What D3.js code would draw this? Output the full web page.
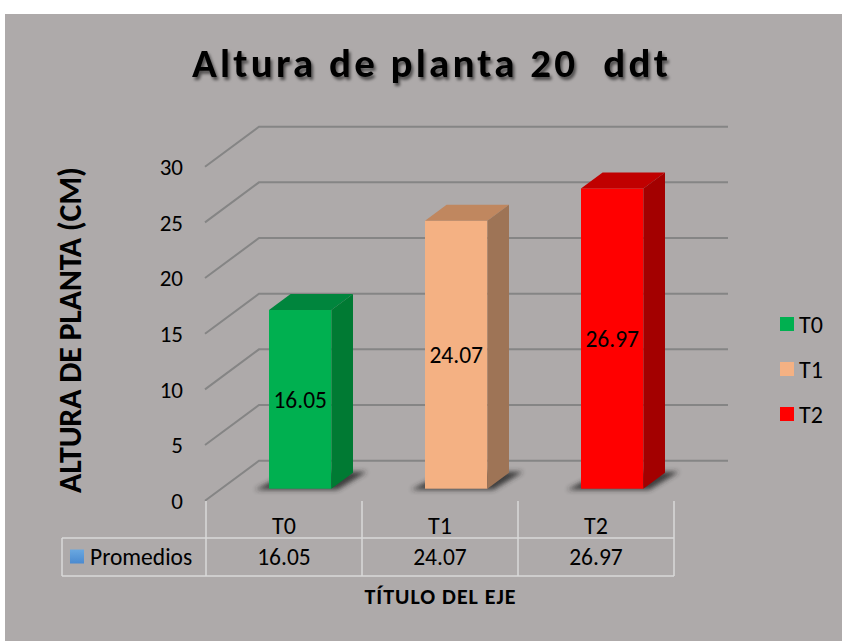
<!DOCTYPE html>
<html>
<head>
<meta charset="utf-8">
<script src="https://cdnjs.cloudflare.com/ajax/libs/d3/7.8.5/d3.min.js"></script>
<style>
  body { margin:0; background:#fff; }
  text { font-family: Carlito, Calibri, Lato, sans-serif; fill:#000; white-space: pre; }
</style>
</head>
<body>
<svg></svg>
<script>
// data
var categories = ["T0", "T1", "T2"];
var promedios = [16.05, 24.07, 26.97];
var yTicks = [0, 5, 10, 15, 20, 25, 30];
var seriesName = "Promedios";

var frontColor = ["#00b050", "#f4b183", "#ff0000"];
var topColor = ["#00853d", "#c0875f", "#c00000"];
var sideColor = ["#007a33", "#9e7456", "#a30000"];

var svgwidth = 842;
var svgheight = 641;
var svg = d3.select('svg').attr('width', svgwidth).attr('height', svgheight);

var defs = svg.append('defs');
var ts = defs.append('filter').attr('id', 'tshadow').attr('x', '-10%').attr('y', '-20%').attr('width', '130%').attr('height', '160%');
ts.append('feDropShadow').attr('dx', 2).attr('dy', 3).attr('stdDeviation', 1.6)
  .attr('flood-color', '#000').attr('flood-opacity', 0.55);
var bs = defs.append('filter').attr('id', 'bshadow').attr('x', '-30%').attr('y', '-60%').attr('width', '160%').attr('height', '220%');
bs.append('feGaussianBlur').attr('stdDeviation', 2.5);

// gray chart area
svg.append('rect').attr('x', 5).attr('y', 14).attr('width', svgwidth - 5).attr('height', svgheight - 14)
   .attr('fill', '#aeaaaa');

// 3d geometry: front plane and depth offset
var depthX = 54, depthY = 40;

var xScale = d3.scaleBand()
               .domain(categories)
               .range([206, 674])
               .padding(0);

var yScale = d3.scaleLinear()
               .domain([0, 30])
               .range([500.7, 166.7]);

var plot = svg.append('g').classed('plot', true);

// gridlines: left wall diagonal + back wall horizontal
plot.selectAll('polyline.grid')
    .data(yTicks)
    .enter().append('polyline')
    .classed('grid', true)
    .attr('points', function(d){
      var y = yScale(d);
      return [[205, y], [205 + depthX, y - depthY], [xScale.range()[1] + depthX, y - depthY]].join(' ');
    })
    .attr('fill', 'none')
    .attr('stroke', '#858585')
    .attr('stroke-width', 2);

// y tick labels
svg.append('g').selectAll('text')
   .data(yTicks)
   .enter().append('text')
   .attr('x', 183)
   .attr('y', function(d){ return yScale(d); })
   .attr('dy', '0.36em')
   .attr('text-anchor', 'end')
   .style('font-size', '23px')
   .text(function(d){ return d; });

// bars
var d0 = 0.3, d1 = 0.7;
var bw = xScale.bandwidth() * 0.4;

var bars = plot.selectAll('g.bar')
    .data(promedios)
    .enter().append('g').classed('bar', true);

var geom = function(d, i){
  var x0 = xScale(categories[i]) + xScale.bandwidth() / 2 - bw / 2 + d0 * depthX;
  var x1 = x0 + bw;
  var yb = yScale(0) - d0 * depthY;
  var yt = yb - (yScale(0) - yScale(d));
  var ox = (d1 - d0) * depthX, oy = (d1 - d0) * depthY;
  return {x0:x0, x1:x1, yb:yb, yt:yt, ox:ox, oy:oy};
};

bars.append('polygon')
    .attr('points', function(d, i){
      var g = geom(d, i);
      return [[g.x0 - 14, g.yb + 1], [g.x1 + 6, g.yb + 1], [g.x1 + g.ox + 14, g.yb - g.oy - 1], [g.x0 + g.ox, g.yb - g.oy - 1]].join(' ');
    })
    .attr('fill', '#2a2a2a')
    .attr('opacity', 0.85)
    .attr('filter', 'url(#bshadow)');

bars.append('rect')
    .attr('x', function(d, i){ return geom(d, i).x0; })
    .attr('y', function(d, i){ return geom(d, i).yt; })
    .attr('width', bw)
    .attr('height', function(d, i){ var g = geom(d, i); return g.yb - g.yt; })
    .attr('fill', function(d, i){ return frontColor[i]; });

bars.append('polygon')
    .attr('points', function(d, i){
      var g = geom(d, i);
      return [[g.x0, g.yt], [g.x1, g.yt], [g.x1 + g.ox, g.yt - g.oy], [g.x0 + g.ox, g.yt - g.oy]].join(' ');
    })
    .attr('fill', function(d, i){ return topColor[i]; });

bars.append('polygon')
    .attr('points', function(d, i){
      var g = geom(d, i);
      return [[g.x1, g.yt], [g.x1 + g.ox, g.yt - g.oy], [g.x1 + g.ox, g.yb - g.oy], [g.x1, g.yb]].join(' ');
    })
    .attr('fill', function(d, i){ return sideColor[i]; });

// data labels
bars.append('text')
    .attr('x', function(d, i){ var g = geom(d, i); return (g.x0 + g.x1) / 2; })
    .attr('y', function(d, i){ var g = geom(d, i); return (g.yt + g.yb) / 2; })
    .attr('dy', '0.36em')
    .attr('text-anchor', 'middle')
    .style('font-size', '23.5px')
    .text(function(d){ return d.toFixed(2); });

// data table under the axis
var table = svg.append('g').classed('table', true);
var lineColor = '#d9d9d9';
var tTop = 501, tMid = 538, tBot = 576, tLeft = 62;

xScale.range().concat(categories.slice(1).map(function(c){ return xScale(c); })).forEach(function(x){
  table.append('line').attr('x1', x).attr('x2', x).attr('y1', tTop).attr('y2', tBot)
       .attr('stroke', lineColor).attr('stroke-width', 1.5);
});
table.append('line').attr('x1', tLeft).attr('x2', tLeft).attr('y1', tMid).attr('y2', tBot)
     .attr('stroke', lineColor).attr('stroke-width', 1.5);
[tMid, tBot].forEach(function(y){
  table.append('line').attr('x1', tLeft).attr('x2', xScale.range()[1]).attr('y1', y).attr('y2', y)
       .attr('stroke', lineColor).attr('stroke-width', 1.5);
});

table.selectAll('text.cat')
     .data(categories)
     .enter().append('text').classed('cat', true)
     .attr('x', function(d){ return xScale(d) + xScale.bandwidth() / 2; })
     .attr('y', 525)
     .attr('dy', '0.36em')
     .attr('text-anchor', 'middle')
     .style('font-size', '24px')
     .text(function(d){ return d; });

table.selectAll('text.val')
     .data(promedios)
     .enter().append('text').classed('val', true)
     .attr('x', function(d, i){ return xScale(categories[i]) + xScale.bandwidth() / 2; })
     .attr('y', 557)
     .attr('dy', '0.36em')
     .attr('text-anchor', 'middle')
     .style('font-size', '23.5px')
     .text(function(d){ return d.toFixed(2); });

var keyGrad = defs.append('linearGradient').attr('id', 'keyGrad').attr('x1', 0).attr('y1', 0).attr('x2', 0).attr('y2', 1);
keyGrad.append('stop').attr('offset', '0%').attr('stop-color', '#6aa8e0');
keyGrad.append('stop').attr('offset', '100%').attr('stop-color', '#4a8ad0');
table.append('rect').attr('x', 70).attr('y', 549.5).attr('width', 14).attr('height', 14).attr('fill', 'url(#keyGrad)');
table.append('text').attr('x', 90).attr('y', 557).attr('dy', '0.36em')
     .style('font-size', '23.5px').text(seriesName);

// legend
var legend = svg.append('g').classed('legend', true);
var legItems = legend.selectAll('g')
    .data(categories)
    .enter().append('g')
    .attr('transform', function(d, i){ return 'translate(780,' + (324 + i * 45) + ')'; });
legItems.append('rect').attr('x', 0).attr('y', -7).attr('width', 14).attr('height', 14)
        .attr('fill', function(d, i){ return frontColor[i]; });
legItems.append('text').attr('x', 19).attr('dy', '0.36em')
        .style('font-size', '24px').text(function(d){ return d; });

// titles
svg.append('text')
   .attr('x', 430).attr('y', 77)
   .attr('text-anchor', 'middle')
   .attr('textLength', 476)
   .attr('lengthAdjust', 'spacing')
   .attr('filter', 'url(#tshadow)')
   .style('font-size', '41px').style('font-weight', 'bold')
   .text('Altura de planta 20  ddt');

svg.append('text')
   .attr('transform', 'translate(81,330) rotate(-90)')
   .attr('text-anchor', 'middle')
   .attr('textLength', 326)
   .attr('lengthAdjust', 'spacing')
   .style('font-size', '32px').style('font-weight', 'bold')
   .text('ALTURA DE PLANTA (CM)');

svg.append('text')
   .attr('x', 440).attr('y', 604)
   .attr('text-anchor', 'middle')
   .attr('textLength', 151)
   .attr('lengthAdjust', 'spacing')
   .style('font-size', '22px').style('font-weight', 'bold')
   .text('TÍTULO DEL EJE');
</script>
</body>
</html>
